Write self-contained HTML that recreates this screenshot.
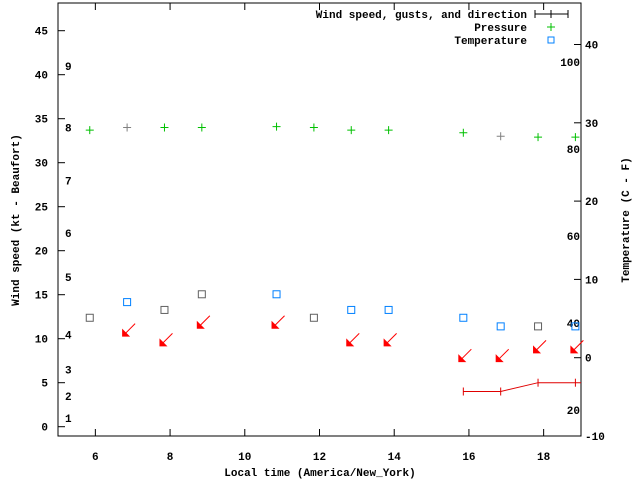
<!DOCTYPE html>
<html><head><meta charset="utf-8"><style>
body{margin:0;background:#fff}
svg text{font-family:"Liberation Mono",monospace;font-size:11px;font-weight:bold;fill:#000}
</style></head><body>
<svg id="c" width="640" height="480" xmlns="http://www.w3.org/2000/svg"></svg>
<script>
const times=[5.85,6.85,7.85,8.85,10.85,11.85,12.85,13.85,15.85,16.85,17.85,18.85];
const pressure=[33.7,34.0,34.0,34.0,34.1,34.0,33.7,33.7,33.4,33.0,32.9,32.9];
const pressureGray=[0,1,0,0,0,0,0,0,0,1,0,0];
const tempC=[5.1,7.1,6.1,8.1,8.1,5.1,6.1,6.1,5.1,4.0,4.0,4.0];
const tempGray=[1,0,1,1,0,1,0,0,0,0,1,0];
const windTimes=[15.85,16.85,17.85,18.85,19.0];
const windSpeed=[4,4,5,5,5];
const arrowTimes=[6.85,7.85,8.85,10.85,12.85,13.85,15.85,16.85,17.85,18.85];
const arrowLevel=[10.8,9.7,11.7,11.7,9.7,9.7,7.9,7.9,8.9,8.9];
const leftTicks=[0,5,10,15,20,25,30,35,40,45];
const rightTicks=[-10,0,10,20,30,40];
const xTicks=[6,8,10,12,14,16,18];
const beaufortLabels=["1","2","3","4","5","6","7","8","9"];
const beaufortKt=[1,3.5,6.5,10.5,17,22,28,34,41];
const fLabels=[20,40,60,80,100];

const L=58,R=581,T=3,B=436;
const X=t=>L+(t-5)/(19-5)*(R-L);
const Y=v=>426.7-v*8.8;
const YC=c=>357.7-c*7.83;
const svg=document.getElementById('c');
const NS='http://www.w3.org/2000/svg';
function mk(tag,attrs,name,txt){const e=document.createElementNS(NS,tag);for(const k in attrs)e.setAttribute(k,attrs[k]);


if(txt!==undefined)e.textContent=txt;svg.appendChild(e);return e;}
mk('rect',{x:L,y:T,width:R-L,height:B-T,fill:'none',stroke:'#000','stroke-width':1},'plot-frame');
leftTicks.forEach(v=>{const y=Y(v);mk('line',{x1:L,y1:y,x2:L+7,y2:y,stroke:'#000'},'y-tick');
mk('text',{x:L-10,y:y+4,'text-anchor':'end'},'y-tick-label',String(v));});
rightTicks.forEach(v=>{const y=YC(v);mk('line',{x1:R-7,y1:y,x2:R,y2:y,stroke:'#000'},'y2-tick');
mk('text',{x:R+4,y:y+4},'y2-tick-label',String(v));});
xTicks.forEach(v=>{const x=X(v);mk('line',{x1:x,y1:B,x2:x,y2:B-7,stroke:'#000'},'x-tick');
mk('line',{x1:x,y1:T,x2:x,y2:T+7,stroke:'#000'},'x-tick-top');
mk('text',{x:x,y:B+24,'text-anchor':'middle'},'x-tick-label',String(v));});
beaufortLabels.forEach((s,i)=>mk('text',{x:65,y:Y(beaufortKt[i])+4},'beaufort-label',s));
fLabels.forEach(f=>mk('text',{x:580,y:YC((f-32)*5/9)+4,'text-anchor':'end'},'fahrenheit-label',String(f)));
mk('text',{x:320,y:476,'text-anchor':'middle'},'x-axis-title','Local time (America/New_York)');
mk('text',{x:19,y:220,'text-anchor':'middle',transform:'rotate(-90 19 220)'},'y-axis-title','Wind speed (kt - Beaufort)');
mk('text',{x:629,y:220,'text-anchor':'middle',transform:'rotate(-90 629 220)'},'y2-axis-title','Temperature (C - F)');
mk('text',{x:527,y:18,'text-anchor':'end'},'legend-wind-label','Wind speed, gusts, and direction');
mk('line',{x1:535,y1:14,x2:568,y2:14,stroke:'#000'},'legend-wind-line');
mk('path',{d:'M535 10V18M568 10V18M551 10V18',stroke:'#000'},'legend-wind-marks');
mk('text',{x:527,y:31,'text-anchor':'end'},'legend-pressure-label','Pressure');
mk('path',{d:'M547 27H555M551 23V31',stroke:'#00c000'},'legend-pressure-marker');
mk('text',{x:527,y:44,'text-anchor':'end'},'legend-temperature-label','Temperature');
mk('rect',{x:548,y:37,width:6,height:6,fill:'none',stroke:'#0080ff'},'legend-temperature-marker');
times.forEach((t,i)=>{const x=X(t),y=Y(pressure[i]);
mk('path',{d:`M${x-4} ${y}H${x+4}M${x} ${y-4}V${y+4}`,stroke:pressureGray[i]?'#808080':'#00c000'},'pressure-point');});
times.forEach((t,i)=>{const x=X(t),y=YC(tempC[i]);
mk('rect',{x:x-3.5,y:y-3.5,width:7,height:7,fill:'none',stroke:tempGray[i]?'#606060':'#0080ff'},'temperature-point');});
mk('polyline',{points:windTimes.map((t,i)=>X(t)+','+Y(windSpeed[i])).join(' '),fill:'none',stroke:'#e00000'},'wind-speed-line');
windTimes.slice(0,4).forEach((t,i)=>{const x=X(t),y=Y(windSpeed[i]);
mk('line',{x1:x,y1:y-4,x2:x,y2:y+4,stroke:'#e00000'},'wind-speed-point');});
arrowTimes.forEach((t,i)=>{const x=X(t),y=Y(arrowLevel[i]);
mk('line',{x1:x+8,y1:y-8,x2:x-4,y2:y+4,stroke:'#f00'},'wind-arrow-shaft');
mk('polygon',{points:`${x-5},${y+5} ${x-5},${y-3} ${x+3},${y+5}`,fill:'#f00'},'wind-arrow-head');});
</script>
</body></html>
